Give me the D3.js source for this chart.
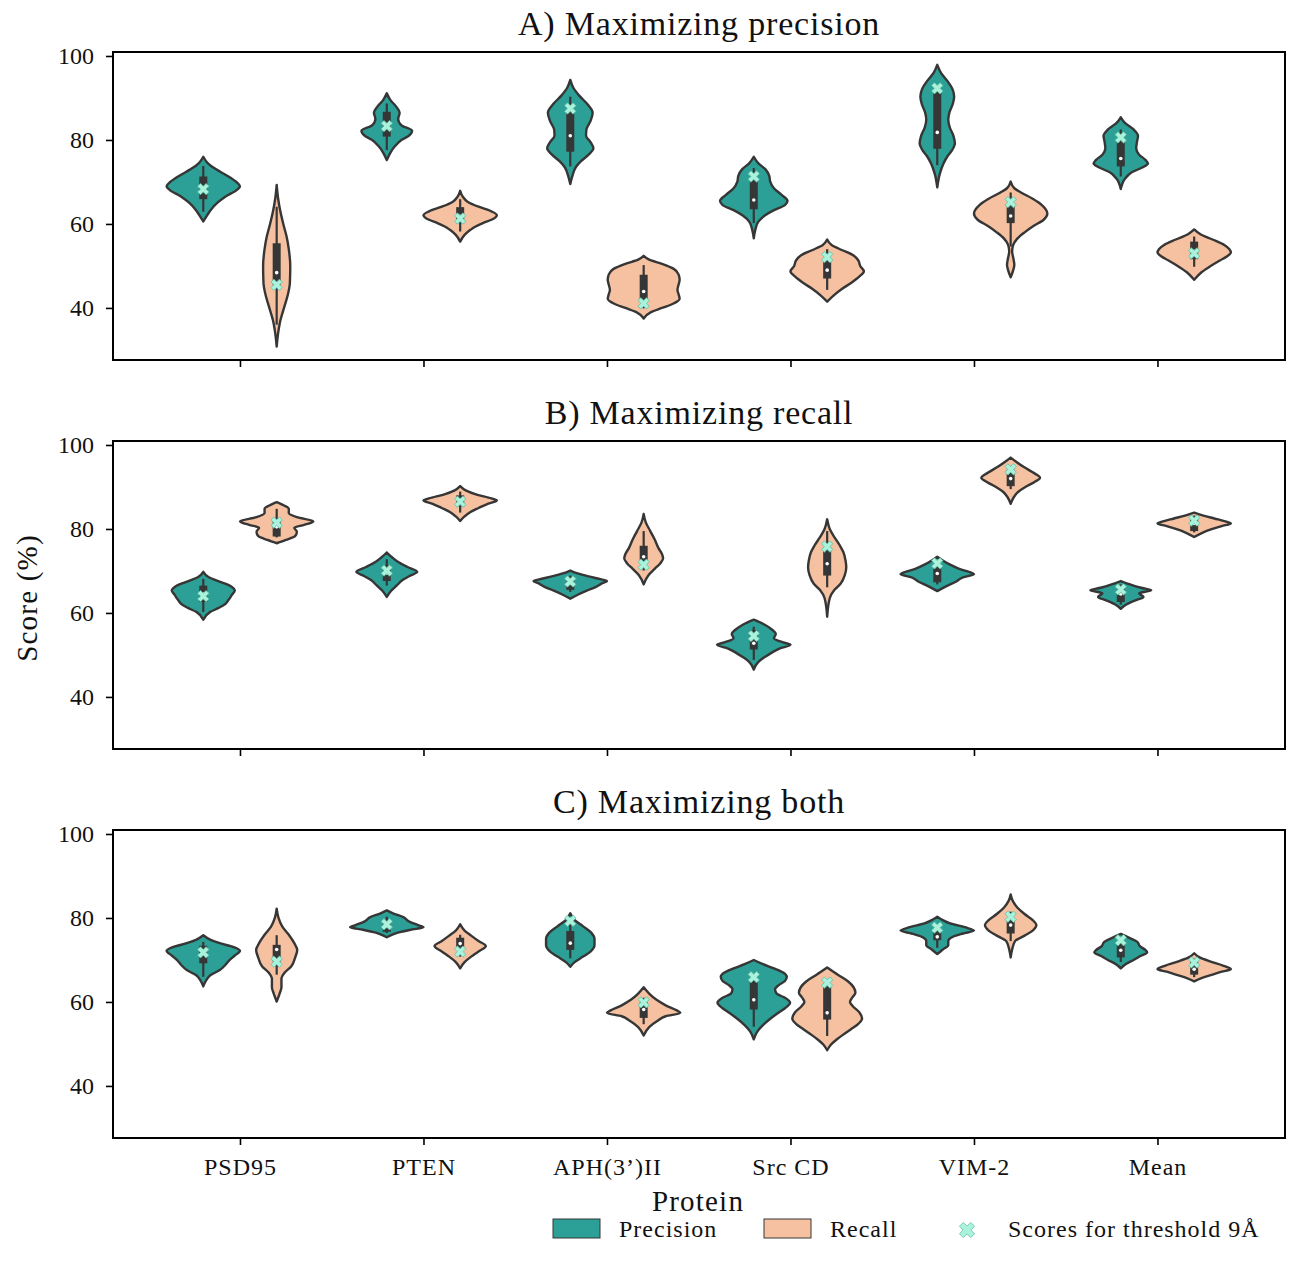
<!DOCTYPE html>
<html>
<head>
<meta charset="utf-8">
<script src="https://cdn.jsdelivr.net/npm/d3@7"></script>
<style>
  body { margin: 0; background: #fff; }
  text { font-family: "Liberation Serif", "Times New Roman", serif; fill: #111; }
</style>
</head>
<body>
<script>
// categories and labels
const proteins = ['PSD95', 'PTEN', 'APH(3\u2019)II', 'Src CD', 'VIM-2', 'Mean'];
const metrics = ['Precision', 'Recall'];
const panelTitles = ['A) Maximizing precision', 'B) Maximizing recall', 'C) Maximizing both'];
const yTicks = [40, 60, 80, 100];

// violin outlines: [score, relative half width]
const precisionShapeA = [
  [[76,0],[74.5,0.12],[73,0.35],[71.5,0.65],[70,0.9],[69,1.0],[68,0.9],[66.5,0.6],[65,0.38],[63.5,0.22],[62,0.1],[60.6,0]],
  [[91.1,0],[89.5,0.1],[88,0.25],[86.5,0.35],[85,0.31],[83.5,0.4],[82.2,0.69],[81,0.6],[80,0.4],[78.5,0.22],[77,0.1],[75.2,0]],
  [[94.3,0],[92.5,0.08],[90.5,0.25],[88.5,0.47],[86.5,0.61],[84.5,0.55],[82.5,0.44],[81,0.43],[79.5,0.55],[78,0.63],[76.5,0.5],[75,0.3],[73.5,0.15],[71.5,0.06],[69.5,0]],
  [[76,0],[74.5,0.12],[73,0.32],[71.5,0.42],[70,0.45],[68.5,0.55],[67,0.75],[65.5,0.92],[64.5,0.85],[63.3,0.55],[62,0.3],[60.5,0.12],[58.5,0.04],[56.6,0]],
  [[97.9,0],[96,0.1],[94,0.28],[92,0.42],[90.3,0.46],[88.5,0.42],[86.5,0.33],[84.8,0.3],[83,0.34],[81,0.44],[79.2,0.48],[77.5,0.4],[76,0.27],[74.4,0.17],[72,0.07],[68.7,0]],
  [[85.4,0],[84,0.12],[82.5,0.35],[81,0.47],[79.5,0.44],[78,0.42],[76.5,0.5],[75.2,0.68],[74.4,0.74],[73.5,0.6],[72.3,0.3],[70.8,0.12],[68.3,0]]
];
const recallShapeA = [
  [[69.3,0],[66,0.04],[63,0.1],[60,0.18],[57,0.27],[54,0.33],[50,0.37],[46,0.36],[43,0.3],[40,0.2],[37,0.1],[34,0.04],[30.8,0]],
  [[67.9,0],[66.5,0.07],[65.3,0.2],[64.1,0.5],[63,0.85],[62.1,1.0],[61,0.85],[60.2,0.62],[59.4,0.42],[58.6,0.28],[57.4,0.12],[55.8,0]],
  [[52.4,0],[51.5,0.15],[50.5,0.5],[49.3,0.82],[48,0.95],[46.7,0.98],[45.5,0.95],[44.3,0.92],[43.3,0.95],[42.2,0.98],[41,0.8],[40,0.5],[39,0.2],[37.5,0]],
  [[56.3,0],[55,0.12],[53.8,0.4],[52.5,0.72],[51.3,0.85],[50,0.9],[48.7,1.0],[47.5,0.88],[46,0.66],[44.5,0.4],[43,0.18],[41.5,0]],
  [[70.1,0],[68.5,0.1],[67.5,0.28],[66,0.6],[64.5,0.85],[62.5,1.0],[61,0.9],[59.5,0.62],[58,0.38],[56.5,0.18],[55,0.07],[53.5,0.04],[51.5,0.08],[50.3,0.1],[49,0.07],[47.3,0]],
  [[58.7,0],[57.5,0.18],[56.3,0.5],[55,0.82],[54,0.96],[53.2,1.0],[52.3,0.9],[51.3,0.7],[50,0.45],[48.5,0.2],[46.7,0]]
];
const precisionShapeB = [
  [[69.8,0],[68.5,0.15],[67.3,0.5],[66.2,0.78],[65.4,0.86],[64.3,0.78],[63,0.68],[62,0.58],[61.2,0.42],[60.2,0.18],[58.4,0]],
  [[74.4,0],[73.2,0.15],[72.2,0.3],[71,0.55],[69.8,0.83],[68.8,0.62],[67.8,0.42],[66.6,0.28],[65.3,0.12],[63.8,0]],
  [[70.1,0],[69.4,0.2],[68.7,0.5],[68,0.85],[67.6,1.0],[67,0.85],[66.2,0.7],[65.3,0.45],[64.4,0.22],[63.4,0]],
  [[58.4,0],[57.2,0.3],[56,0.5],[55,0.6],[54,0.55],[53,0.8],[52.4,1.0],[51.5,0.7],[50.5,0.48],[49.5,0.3],[48.3,0.12],[46.5,0]],
  [[73.4,0],[72.5,0.15],[71.5,0.35],[70.5,0.6],[69.5,0.95],[69.2,1.0],[68.5,0.7],[67.5,0.52],[66.5,0.28],[65.2,0]],
  [[67.6,0],[66.8,0.25],[66,0.55],[65.4,0.83],[64.7,0.5],[63.8,0.62],[63,0.4],[62,0.15],[61,0]]
];
const recallShapeB = [
  [[86.4,0],[85.6,0.2],[84.8,0.33],[83.8,0.33],[82.8,0.55],[81.8,1.0],[81,0.75],[80.3,0.48],[79.3,0.55],[78.3,0.5],[77.4,0.25],[76.6,0]],
  [[90.2,0],[89.2,0.15],[88.2,0.45],[87.3,0.85],[86.8,1.0],[86,0.75],[85,0.5],[84,0.27],[83,0.12],[81.9,0]],
  [[83.6,0],[81.5,0.06],[79.5,0.18],[77.5,0.3],[75.5,0.4],[74,0.5],[73,0.53],[71.8,0.45],[70.5,0.3],[69,0.13],[66.8,0]],
  [[82.3,0],[80,0.07],[78,0.2],[76,0.35],[74.5,0.44],[72.5,0.5],[70.9,0.52],[69,0.48],[67,0.37],[65.5,0.2],[63.5,0.07],[59.1,0]],
  [[97,0],[96,0.15],[94.8,0.35],[93.5,0.6],[92.2,0.8],[91.2,0.65],[90,0.4],[88.8,0.2],[87.5,0.08],[86,0]],
  [[83.9,0],[83.2,0.25],[82.5,0.55],[81.8,0.85],[81.3,1.0],[80.7,0.75],[80,0.5],[79.2,0.25],[78.1,0]]
];
const precisionShapeC = [
  [[75.9,0],[74.8,0.2],[74,0.45],[73,0.85],[72.2,1.0],[71,0.85],[70,0.72],[68.8,0.6],[67.6,0.45],[66.4,0.2],[65,0.07],[63.7,0]],
  [[81.8,0],[81,0.2],[80.2,0.45],[79.2,0.6],[78.3,0.85],[77.8,1.0],[77.2,0.65],[76.5,0.3],[75.4,0]],
  [[81.1,0],[79.5,0.12],[78,0.35],[76.5,0.57],[75,0.66],[73.5,0.66],[72,0.55],[70.8,0.35],[69.5,0.12],[68.4,0]],
  [[70,0],[69,0.25],[68,0.55],[67,0.8],[66,0.9],[65,0.85],[64,0.68],[63,0.58],[62,0.62],[61,0.85],[59.8,0.99],[58.5,0.85],[57.3,0.65],[56,0.45],[54.5,0.25],[53,0.1],[51.1,0]],
  [[80.3,0],[79.5,0.15],[78.7,0.35],[77.8,0.75],[77,1.0],[76.3,0.7],[75.5,0.42],[74.5,0.3],[73.5,0.3],[72.5,0.15],[71.4,0]],
  [[76.2,0],[75.2,0.25],[74.3,0.45],[73.3,0.52],[72.3,0.68],[71.8,0.72],[71,0.55],[70,0.35],[69,0.13],[68,0]]
];
const recallShapeC = [
  [[82.2,0],[80,0.05],[78,0.15],[76,0.33],[74,0.48],[72.4,0.56],[70.5,0.5],[68.5,0.4],[67,0.22],[65.5,0.13],[63.5,0.13],[62,0.08],[60.1,0]],
  [[78.5,0],[77,0.12],[75.8,0.3],[74.5,0.5],[73.3,0.7],[72,0.5],[70.8,0.3],[69.5,0.12],[68,0]],
  [[63.5,0],[62,0.15],[60.5,0.35],[59.2,0.6],[58,0.9],[57.4,1.0],[56.6,0.6],[55.5,0.38],[54,0.15],[52,0]],
  [[68.2,0],[67,0.2],[66,0.38],[64.8,0.58],[63.5,0.72],[62.2,0.77],[61,0.68],[60,0.62],[59,0.7],[57.5,0.88],[56,0.95],[54.8,0.85],[53.5,0.65],[52.3,0.45],[51,0.25],[49.8,0.1],[48.5,0]],
  [[85.6,0],[84,0.06],[82.5,0.18],[81,0.37],[79.5,0.6],[78.3,0.7],[77,0.6],[75.8,0.38],[74.5,0.12],[72.5,0.04],[70.6,0]],
  [[71.6,0],[70.6,0.15],[69.6,0.45],[68.6,0.8],[67.8,1.0],[67.2,0.75],[66.5,0.5],[65.7,0.2],[64.9,0]]
];

// inner boxes: [lower whisker, q1, median, q3, upper whisker]
const precisionBoxA = [[62.9,65.9,68.5,71.3,73.8],[77.6,80.8,83.5,86.7,88.7],[73.7,77.2,81,86.5,90.3],[60.2,63.5,65.7,70.5,73.3],[74,77.9,81.8,91.5,92.9],[71.3,73.7,75.6,79.6,82.5]];
const recallBoxA = [[36,45.5,48.4,55.4,64.1],[58.2,60.2,61.8,64,65.9],[39.9,41.9,43.9,47.9,50.2],[44.3,47,49,51,54],[54.6,60.2,61.9,64.3,67.5],[49.8,51.6,53.5,55.8,57]];
const precisionBoxB = [[60.2,62.6,64.5,66.5,68.1],[66.5,67.6,69.5,71.4,72.8],[65,65.5,67,68.1,68.9],[48.8,51.3,52.8,55.9,56.7],[66.8,67.3,69.4,70.9,72],[62,62.6,64.5,66.1,66.8]];
const recallBoxB = [[78,78.2,80.5,82,84.8],[83.9,85.4,86.8,88,88.9],[70.1,72.4,73.4,76,79.5],[66.1,68.9,71.7,75.6,79.5],[89.5,90.2,92,94.1,95],[79.2,79.5,81.3,82.8,83.2]];
const precisionBoxC = [[66,69.2,71.5,73.4,74.3],[76.4,76.7,78,79.6,80.3],[70.4,72.4,74,76.9,79.1],[54.1,58.2,60.5,64.9,66.1],[72.9,74.7,75.5,77.3,78.3],[69.5,70.6,72.3,74,75]];
const recallBoxC = [[66.5,69.6,72.5,73.6,75.9],[70.8,72.8,73.9,75.3,76],[54.7,56.2,58.2,59.9,61],[51.9,55.8,57.4,64.3,64.9],[74.5,76.3,78.3,79.5,81.5],[65.9,66.5,67.8,69.6,70.3]];

// scores for threshold 9 A
const precisionThrA = [68.3, 83.3, 87.5, 71.3, 92.3, 80.6];
const recallThrA = [45.5, 61.3, 41.1, 52.1, 65.2, 53];
const precisionThrB = [64, 70.1, 67.5, 54.5, 71.8, 65.6];
const recallThrB = [81.5, 86.5, 71.5, 75.8, 94.2, 82];
const precisionThrC = [71.8, 78.5, 79.3, 65.9, 77.7, 74.7];
const recallThrC = [69.6, 72, 59.9, 64.6, 80.3, 69.4];

const colors = ['#2ca096', '#f5c1a0'];
const edge = '#363636';
const markerFill = '#aaf2dc';

const w = 1291, h = 1268;
const svg = d3.select('body').append('svg').attr('width', w).attr('height', h);

const panelTop = [52, 441, 830];
const panelH = 308;

const x = d3.scaleLinear().domain([-0.692, 5.695]).range([113, 1285]);
const halfW = x(0.2) - x(0);

const panels = [
  { shapes: [precisionShapeA, recallShapeA], boxes: [precisionBoxA, recallBoxA], thr: [precisionThrA, recallThrA] },
  { shapes: [precisionShapeB, recallShapeB], boxes: [precisionBoxB, recallBoxB], thr: [precisionThrB, recallThrB] },
  { shapes: [precisionShapeC, recallShapeC], boxes: [precisionBoxC, recallBoxC], thr: [precisionThrC, recallThrC] }
];

// filled "X" marker like matplotlib
function xPath(r) {
  const a = 0.34;
  const pts = [[-a,-1],[a,-1],[a,-a],[1,-a],[1,a],[a,a],[a,1],[-a,1],[-a,a],[-1,a],[-1,-a],[-a,-a]];
  const s = Math.SQRT1_2 * r;
  return 'M' + pts.map(p => [(p[0] - p[1]) * s, (p[0] + p[1]) * s].join(',')).join('L') + 'Z';
}

panels.forEach((panel, i) => {
  const top = panelTop[i];
  const y = d3.scaleLinear().domain([27.6, 100.95]).range([top + panelH, top]);
  const g = svg.append('g');

  panel.shapes.forEach((shapeSet, mi) => {
    shapeSet.forEach((profile, pi) => {
      const cx = x(pi + (mi === 0 ? -0.2 : 0.2));
      const area = d3.area()
        .y(d => y(d[0]))
        .x0(d => cx - d[1] * halfW)
        .x1(d => cx + d[1] * halfW)
        .curve(d3.curveMonotoneY);
      g.append('path')
        .attr('d', area(profile))
        .attr('fill', colors[mi])
        .attr('stroke', edge)
        .attr('stroke-width', 2.4)
        .attr('stroke-linejoin', 'round');

      const b = panel.boxes[mi][pi];
      g.append('line')
        .attr('x1', cx).attr('x2', cx)
        .attr('y1', y(b[0])).attr('y2', y(b[4]))
        .attr('stroke', edge).attr('stroke-width', 2.2);
      g.append('rect')
        .attr('x', cx - 4).attr('width', 8)
        .attr('y', y(b[3])).attr('height', y(b[1]) - y(b[3]))
        .attr('fill', edge);
      g.append('circle')
        .attr('cx', cx).attr('cy', y(b[2])).attr('r', 1.8)
        .attr('fill', 'white');

      g.append('path')
        .attr('d', xPath(6))
        .attr('transform', `translate(${cx},${y(panel.thr[mi][pi])})`)
        .attr('fill', markerFill)
        .attr('stroke', '#5fbfa6')
        .attr('stroke-width', 0.8);
    });
  });

  // axes
  const yAxis = d3.axisLeft(y).tickValues(yTicks).tickSize(7).tickPadding(12);
  const yG = svg.append('g').attr('transform', `translate(113,0)`).call(yAxis);
  const xAxis = d3.axisBottom(x).tickValues(d3.range(6)).tickSize(7).tickPadding(13)
    .tickFormat(d => i === 2 ? proteins[d] : '');
  const xG = svg.append('g').attr('transform', `translate(0,${top + panelH})`).call(xAxis);
  [yG, xG].forEach(a => {
    a.select('.domain').remove();
    a.selectAll('.tick line').attr('stroke', '#000').attr('stroke-width', 1.6);
    a.selectAll('.tick text').style('font-family', '"Liberation Serif", serif')
      .style('font-size', '24px').style('letter-spacing', '1px').attr('fill', '#111');
  });
  yG.selectAll('.tick text').style('letter-spacing', '0px');

  svg.append('rect')
    .attr('x', 113).attr('y', top)
    .attr('width', 1285 - 113).attr('height', panelH)
    .attr('fill', 'none').attr('stroke', '#000').attr('stroke-width', 2);

  svg.append('text')
    .attr('x', 699).attr('y', top - 17)
    .attr('text-anchor', 'middle')
    .style('font-size', '34px').style('letter-spacing', '0.8px')
    .text(panelTitles[i]);
});

svg.append('text')
  .attr('transform', 'translate(37,598) rotate(-90)')
  .attr('text-anchor', 'middle')
  .style('font-size', '29px').style('letter-spacing', '1.2px')
  .text('Score (%)');

svg.append('text')
  .attr('x', 698).attr('y', 1211)
  .attr('text-anchor', 'middle')
  .style('font-size', '29px').style('letter-spacing', '1.2px')
  .text('Protein');

// legend
const legend = svg.append('g');
metrics.forEach((m, mi) => {
  const lx = mi === 0 ? 553 : 764;
  legend.append('rect')
    .attr('x', lx).attr('y', 1219).attr('width', 47).attr('height', 19)
    .attr('fill', colors[mi]).attr('stroke', edge).attr('stroke-width', 1);
  legend.append('text')
    .attr('x', lx + 66).attr('y', 1237)
    .style('font-size', '24px').style('letter-spacing', '1px')
    .text(m);
});
legend.append('path')
  .attr('d', xPath(8))
  .attr('transform', 'translate(967,1230)')
  .attr('fill', markerFill).attr('stroke', '#5fbfa6').attr('stroke-width', 0.8);
legend.append('text')
  .attr('x', 1008).attr('y', 1237)
  .style('font-size', '24px').style('letter-spacing', '1px')
  .text('Scores for threshold 9\u00c5');
</script>
</body>
</html>
